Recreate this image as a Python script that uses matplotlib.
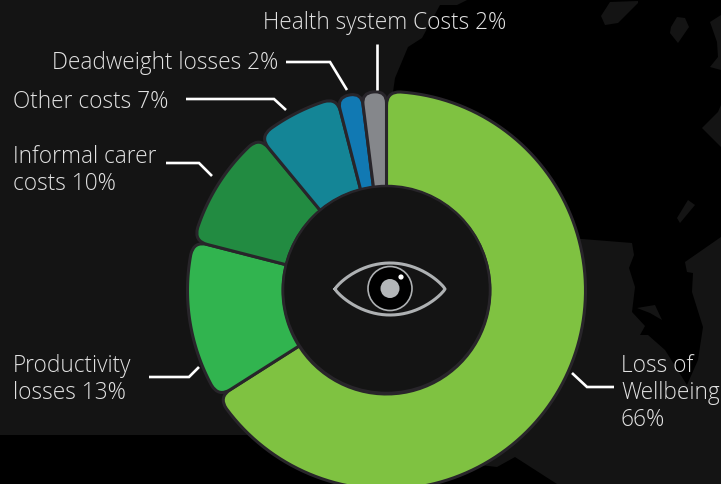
import numpy as np
import matplotlib
matplotlib.use("Agg")
import matplotlib.pyplot as plt
from matplotlib.patches import Circle, PathPatch, Polygon
from matplotlib.path import Path

# clockwise from 12 o'clock
values = [66, 13, 10, 7, 2, 2]
colors = ["#7fc241", "#31b44f", "#228b41", "#148596", "#1179b3", "#85878b"]
labels = [
    "Loss of\nWellbeing\n{}%",
    "Productivity\nlosses {}%",
    "Informal carer\ncosts {}%",
    "Other costs {}%",
    "Deadweight losses {}%",
    "Health system Costs {}%",
]
label_pos = [(621, 372), (13, 372), (13, 163), (13, 108), (52, 69), (263, 29)]
leaders = [
    [(572, 373), (587, 387), (614, 387)],
    [(149, 377), (189, 377), (199, 367)],
    [(166, 163), (199, 163), (212, 176)],
    [(186, 99), (274, 99), (286, 110)],
    [(286, 62), (330, 62), (347, 90)],
    [(377, 44), (377, 90)],
]

# dark map silhouette behind the chart
land = [
    [(0, 0), (467, 0), (457, 5), (440, 5), (422, 38), (408, 47), (395, 78), (393, 92),
     (390, 300), (300, 435), (0, 435)],
    [(440, 300), (540, 239), (582, 239), (632, 243), (634, 255), (629, 268), (635, 287), (632, 312),
     (645, 326), (640, 335), (648, 335), (665, 350), (687, 385), (698, 360), (703, 327),
     (692, 292), (693, 273), (687, 272), (685, 262), (721, 237), (721, 484), (557, 484),
     (515, 457), (497, 467), (480, 465), (440, 440)],
    [(637, 308), (655, 305), (662, 320), (650, 313)],
    [(610, 2), (638, 1), (638, 3), (618, 23), (605, 25), (601, 16)],
    [(677, 17), (685, 18), (689, 27), (678, 43), (670, 33), (671, 27)],
    [(710, 22), (721, 15), (721, 70), (710, 67), (718, 57), (717, 42)],
    [(702, 128), (718, 112), (721, 105), (721, 147)],
    [(688, 200), (695, 205), (680, 223), (677, 218)],
]

CX, CY = 386.5, 290.5
R_OUT, R_IN = 199, 103.5
CORNER = 14


def pt(r, a):
    return (CX + r * np.sin(a), CY - r * np.cos(a))


def wedge_path(a0, a1):
    # flat inner edge, rounded outer corners
    c = min(CORNER, 0.46 * (a1 - a0) * R_OUT)
    da = c / R_OUT
    verts = [pt(R_IN, a) for a in np.linspace(a0, a1, 60)]
    codes = [Path.MOVETO] + [Path.LINETO] * 59
    verts += [pt(R_OUT - c, a1), pt(R_OUT, a1), pt(R_OUT, a1 - da)]
    codes += [Path.LINETO, Path.CURVE3, Path.CURVE3]
    for a in np.linspace(a1 - da, a0 + da, 120)[1:]:
        verts.append(pt(R_OUT, a))
        codes.append(Path.LINETO)
    verts += [pt(R_OUT, a0), pt(R_OUT - c, a0), pt(R_IN, a0)]
    codes += [Path.CURVE3, Path.CURVE3, Path.LINETO]
    return Path(verts, codes)


fig = plt.figure(figsize=(7.21, 4.84), dpi=100, facecolor="black")
ax = fig.add_axes([0, 0, 1, 1])
ax.set_xlim(0, 721)
ax.set_ylim(484, 0)
ax.axis("off")

for poly in land:
    ax.add_patch(Polygon(poly, closed=True, fc="#141414", ec="none", zorder=1))

edges = np.cumsum([0] + values) / sum(values) * 2 * np.pi
for i in range(len(values)):
    ax.add_patch(PathPatch(wedge_path(edges[i], edges[i + 1]), fc=colors[i], ec="#28252a",
                           lw=2.2, joinstyle="round", zorder=2))

ax.add_patch(Circle((CX, CY - 1), R_IN, fc="#141414", ec="#28252a", lw=1.8, zorder=3))

# eye in the hub
t = np.linspace(-1, 1, 80)
eye_x = 390 + 55 * t
eye_top = 289 - 26 * (1 - t ** 2) ** 0.85
eye_bot = 289 + 26 * (1 - t ** 2) ** 0.85
ax.plot(np.r_[eye_x, eye_x[::-1]], np.r_[eye_top, eye_bot[::-1]], color="#aeb1b3", lw=2.2, zorder=4)
ax.add_patch(Circle((390, 288.5), 22, fc="black", ec="#aeb1b3", lw=1.2, zorder=4))
ax.add_patch(Circle((390, 288.5), 9.5, fc="#b4b7b9", ec="none", zorder=5))
ax.add_patch(Circle((401, 277), 2.6, fc="white", ec="none", zorder=5))

for line in leaders:
    xs, ys = zip(*line)
    ax.plot(xs, ys, color="white", lw=1.9, solid_capstyle="butt", solid_joinstyle="miter", zorder=4)

for i, lab in enumerate(labels):
    x, y = label_pos[i]
    for j, s in enumerate(lab.format(values[i]).split("\n")):
        ax.text(x, y + j * 27, s, color="#e2e2e2", fontsize=16.3, family="Open Sans",
                fontweight="light", ha="left", va="baseline", zorder=6)

fig.savefig("out.png", dpi=100, facecolor="black")
